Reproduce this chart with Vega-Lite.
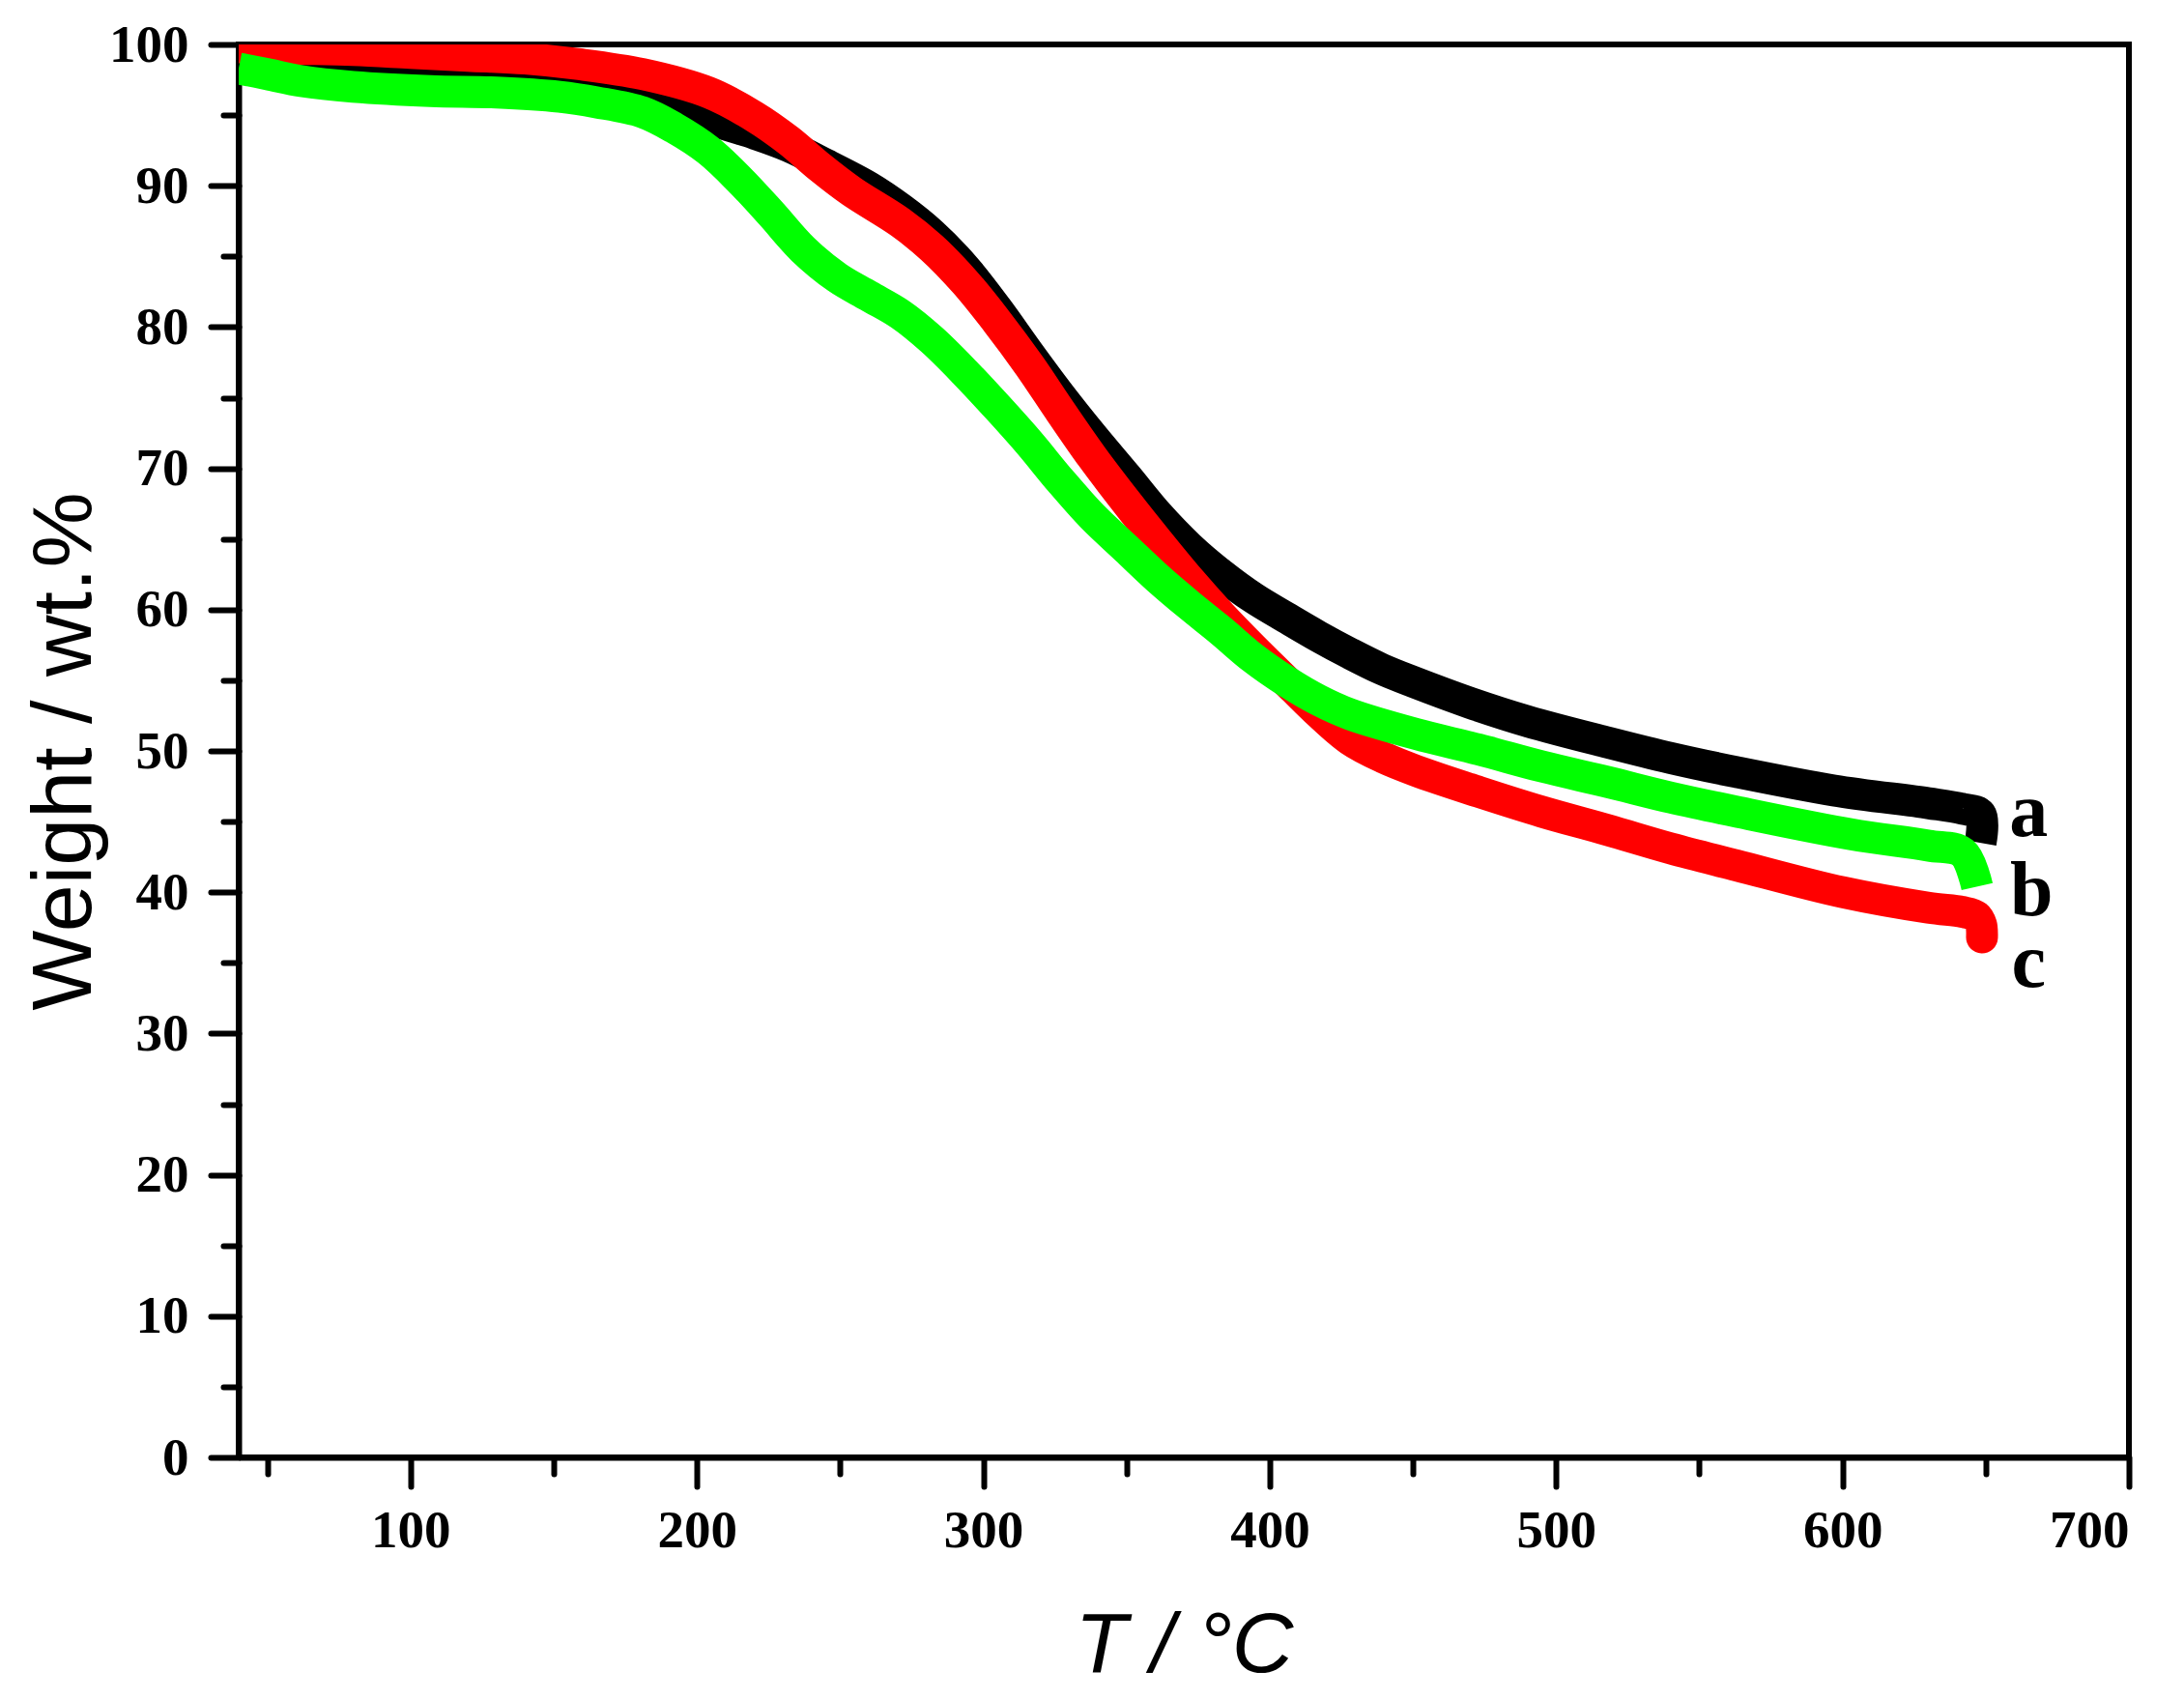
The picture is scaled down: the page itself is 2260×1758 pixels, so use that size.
{
  "$schema": "https://vega.github.io/schema/vega-lite/v6.json",
  "width": 1956,
  "height": 1462,
  "autosize": {"type": "none"},
  "padding": {"left": 247, "top": 46, "right": 57, "bottom": 250},
  "background": "white",
  "view": {"stroke": "black", "strokeWidth": 6},
  "config": {
    "axis": {
      "grid": false,
      "domainColor": "black",
      "domainWidth": 6,
      "tickColor": "black",
      "tickWidth": 6,
      "tickCap": "round",
      "labelFont": "Liberation Serif",
      "labelFontWeight": "bold",
      "labelFontSize": 55,
      "labelColor": "black",
      "titleFont": "Liberation Sans",
      "titleFontWeight": "normal",
      "titleFontSize": 88,
      "titleColor": "black"
    }
  },
  "datasets": {
    "curves": [
      {"s": "a", "T": 40, "W": 99.6}, {"s": "a", "T": 50, "W": 99.3}, {"s": "a", "T": 60, "W": 99.0}, {"s": "a", "T": 80, "W": 98.6},
      {"s": "a", "T": 100, "W": 98.3}, {"s": "a", "T": 120, "W": 98.1}, {"s": "a", "T": 140, "W": 97.9}, {"s": "a", "T": 160, "W": 97.5},
      {"s": "a", "T": 180, "W": 96.7}, {"s": "a", "T": 195, "W": 95.6}, {"s": "a", "T": 206, "W": 94.6}, {"s": "a", "T": 220, "W": 93.7},
      {"s": "a", "T": 232, "W": 92.8}, {"s": "a", "T": 245, "W": 91.5}, {"s": "a", "T": 260, "W": 89.9}, {"s": "a", "T": 271, "W": 88.4},
      {"s": "a", "T": 282, "W": 86.6}, {"s": "a", "T": 293.5, "W": 84.2}, {"s": "a", "T": 304.7, "W": 81.3}, {"s": "a", "T": 316, "W": 78.1},
      {"s": "a", "T": 327, "W": 75.1}, {"s": "a", "T": 338, "W": 72.3}, {"s": "a", "T": 350, "W": 69.4}, {"s": "a", "T": 361, "W": 66.7},
      {"s": "a", "T": 372, "W": 64.4}, {"s": "a", "T": 383, "W": 62.5}, {"s": "a", "T": 394.5, "W": 60.8}, {"s": "a", "T": 406, "W": 59.4},
      {"s": "a", "T": 417, "W": 58.1}, {"s": "a", "T": 428, "W": 56.9}, {"s": "a", "T": 439, "W": 55.8},
      {"s": "a", "T": 450, "W": 54.9}, {"s": "a", "T": 470, "W": 53.4}, {"s": "a", "T": 490, "W": 52.1}, {"s": "a", "T": 518, "W": 50.6},
      {"s": "a", "T": 540, "W": 49.5}, {"s": "a", "T": 563, "W": 48.5}, {"s": "a", "T": 597, "W": 47.2}, {"s": "a", "T": 630, "W": 46.3},
      {"s": "a", "T": 642, "W": 45.9}, {"s": "a", "T": 648.2, "W": 45.5}, {"s": "a", "T": 648.2, "W": 43.5},

      {"s": "c", "T": 40, "W": 99.8}, {"s": "c", "T": 60, "W": 99.7}, {"s": "c", "T": 80, "W": 99.6}, {"s": "c", "T": 100, "W": 99.4},
      {"s": "c", "T": 120, "W": 99.2}, {"s": "c", "T": 140, "W": 99.0}, {"s": "c", "T": 159, "W": 98.6}, {"s": "c", "T": 181, "W": 97.9},
      {"s": "c", "T": 204, "W": 96.6}, {"s": "c", "T": 220, "W": 94.9}, {"s": "c", "T": 232, "W": 93.2}, {"s": "c", "T": 243, "W": 91.3},
      {"s": "c", "T": 254, "W": 89.6}, {"s": "c", "T": 271, "W": 87.4}, {"s": "c", "T": 282, "W": 85.6}, {"s": "c", "T": 293.5, "W": 83.2},
      {"s": "c", "T": 304.7, "W": 80.4}, {"s": "c", "T": 316, "W": 77.3}, {"s": "c", "T": 327, "W": 74.0}, {"s": "c", "T": 338, "W": 70.8}, {"s": "c", "T": 350, "W": 67.6}, {"s": "c", "T": 361, "W": 64.8},
      {"s": "c", "T": 372, "W": 62.1}, {"s": "c", "T": 383, "W": 59.6}, {"s": "c", "T": 394, "W": 57.3}, {"s": "c", "T": 405, "W": 55.1}, {"s": "c", "T": 416, "W": 52.9}, {"s": "c", "T": 428, "W": 50.8},
      {"s": "c", "T": 440, "W": 49.5}, {"s": "c", "T": 451, "W": 48.6},
      {"s": "c", "T": 473, "W": 47.1}, {"s": "c", "T": 495, "W": 45.7}, {"s": "c", "T": 518, "W": 44.4}, {"s": "c", "T": 540, "W": 43.1}, {"s": "c", "T": 563, "W": 41.9}, {"s": "c", "T": 600, "W": 40.0},
      {"s": "c", "T": 630, "W": 38.9}, {"s": "c", "T": 642, "W": 38.6}, {"s": "c", "T": 646.7, "W": 38.3}, {"s": "c", "T": 648.4, "W": 37.7},
      {"s": "c", "T": 648.7, "W": 36.8},

      {"s": "b", "T": 40, "W": 98.3}, {"s": "b", "T": 50, "W": 97.9}, {"s": "b", "T": 62, "W": 97.4}, {"s": "b", "T": 80, "W": 97.0},
      {"s": "b", "T": 107, "W": 96.7}, {"s": "b", "T": 130, "W": 96.6}, {"s": "b", "T": 152, "W": 96.3}, {"s": "b", "T": 165, "W": 95.9},
      {"s": "b", "T": 181, "W": 95.2}, {"s": "b", "T": 192, "W": 94.1}, {"s": "b", "T": 204, "W": 92.5}, {"s": "b", "T": 215, "W": 90.4},
      {"s": "b", "T": 226, "W": 88.0}, {"s": "b", "T": 237, "W": 85.5}, {"s": "b", "T": 249, "W": 83.5}, {"s": "b", "T": 260, "W": 82.2},
      {"s": "b", "T": 271, "W": 80.9}, {"s": "b", "T": 282, "W": 79.1}, {"s": "b", "T": 293.5, "W": 76.8}, {"s": "b", "T": 305, "W": 74.3},
      {"s": "b", "T": 316, "W": 71.8}, {"s": "b", "T": 327, "W": 69.1}, {"s": "b", "T": 338, "W": 66.6}, {"s": "b", "T": 350, "W": 64.3}, {"s": "b", "T": 361, "W": 62.2}, {"s": "b", "T": 372, "W": 60.3}, {"s": "b", "T": 383, "W": 58.5},
      {"s": "b", "T": 394, "W": 56.6}, {"s": "b", "T": 406, "W": 54.9}, {"s": "b", "T": 417, "W": 53.6}, {"s": "b", "T": 428, "W": 52.6}, {"s": "b", "T": 451, "W": 51.2}, {"s": "b", "T": 473, "W": 50.1},
      {"s": "b", "T": 495, "W": 48.9}, {"s": "b", "T": 518, "W": 47.8}, {"s": "b", "T": 540, "W": 46.7}, {"s": "b", "T": 563, "W": 45.7}, {"s": "b", "T": 603, "W": 44.1}, {"s": "b", "T": 630, "W": 43.3},
      {"s": "b", "T": 642, "W": 42.8}, {"s": "b", "T": 647, "W": 40.4}
    ],
    "labels": [
      {"label": "a", "T": 665, "W": 44.0},
      {"label": "b", "T": 666, "W": 38.4},
      {"label": "c", "T": 665, "W": 33.3}
    ]
  },
  "layer": [
    {
      "data": {"name": "curves"},
      "transform": [{"filter": "datum.s === 'a'"}],
      "mark": {"type": "line", "color": "#000000", "strokeWidth": 33, "strokeCap": "butt", "strokeJoin": "bevel", "interpolate": "catmull-rom", "clip": true},
      "encoding": {
        "x": {"field": "T", "type": "quantitative", "sort": null,
          "scale": {"domain": [40, 700], "nice": false, "zero": false},
          "axis": {"orient": "bottom", "values": [100, 200, 300, 400, 500, 600, 700], "title": "T / °C", "titleFontStyle": "italic", "tickSize": 30, "labelPadding": 19, "titlePadding": 48}},
        "y": {"field": "W", "type": "quantitative",
          "scale": {"domain": [0, 100], "nice": false, "zero": false},
          "axis": {"orient": "left", "values": [0, 10, 20, 30, 40, 50, 60, 70, 80, 90, 100], "title": "Weight / wt.%", "tickSize": 29, "labelPadding": 23, "titlePadding": 1}},
        "order": {"value": 0}
      }
    },
    {
      "data": {"name": "curves"},
      "transform": [{"filter": "datum.s === 'c'"}],
      "mark": {"type": "line", "color": "#FF0000", "strokeWidth": 33, "strokeCap": "round", "interpolate": "catmull-rom", "clip": true},
      "encoding": {
        "x": {"field": "T", "type": "quantitative", "sort": null,
          "scale": {"domain": [40, 700], "nice": false, "zero": false},
          "axis": {"orient": "bottom", "values": [50, 150, 250, 350, 450, 550, 650], "labels": false, "domain": false, "title": null, "tickSize": 17}},
        "y": {"field": "W", "type": "quantitative",
          "scale": {"domain": [0, 100], "nice": false, "zero": false},
          "axis": {"orient": "left", "values": [5, 15, 25, 35, 45, 55, 65, 75, 85, 95], "labels": false, "domain": false, "title": null, "tickSize": 16}},
        "order": {"value": 0}
      }
    },
    {
      "data": {"name": "curves"},
      "transform": [{"filter": "datum.s === 'b'"}],
      "mark": {"type": "line", "color": "#00FF00", "strokeWidth": 33, "strokeCap": "butt", "interpolate": "catmull-rom", "clip": true},
      "encoding": {
        "x": {"field": "T", "type": "quantitative", "sort": null, "axis": null},
        "y": {"field": "W", "type": "quantitative", "axis": null},
        "order": {"value": 0}
      }
    },
    {
      "data": {"name": "labels"},
      "mark": {"type": "text", "font": "Liberation Serif", "fontWeight": "bold", "fontSize": 80, "align": "center", "baseline": "alphabetic", "color": "black"},
      "encoding": {
        "x": {"field": "T", "type": "quantitative", "axis": null},
        "y": {"field": "W", "type": "quantitative", "axis": null},
        "text": {"field": "label"}
      }
    }
  ],
  "resolve": {"axis": {"x": "independent", "y": "independent"}}
}
